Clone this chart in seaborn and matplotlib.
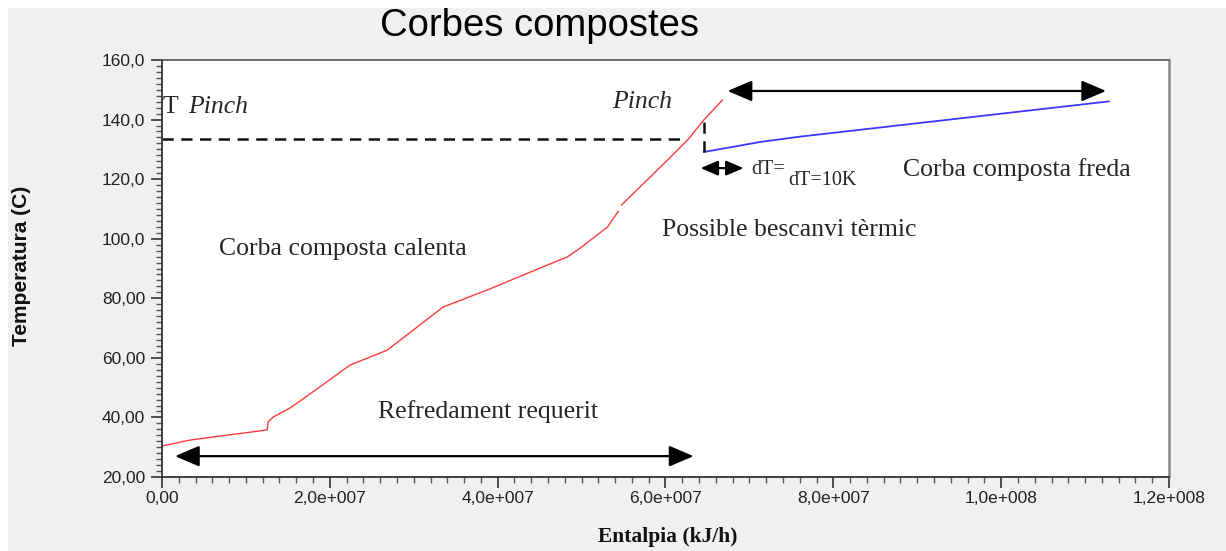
import numpy as np
import pandas as pd
import seaborn as sns
import matplotlib.pyplot as plt
from matplotlib.patches import Rectangle

# Composite curves (enthalpy in kJ/h, temperature in C)
hot_h1 = [0.0, 0.334e7, 1.253e7, 1.265e7, 1.324e7, 1.527e7, 1.646e7, 2.243e7, 2.684e7,
          3.352e7, 3.877e7, 4.390e7, 4.831e7, 4.986e7, 5.308e7, 5.440e7]
hot_t1 = [30.4, 32.4, 35.8, 38.5, 40.1, 43.2, 45.5, 57.6, 62.6,
          77.1, 82.8, 88.8, 93.9, 96.9, 103.9, 109.3]
hot_h2 = [5.475e7, 6.024e7, 6.275e7, 6.454e7, 6.680e7]
hot_t2 = [111.3, 126.4, 133.5, 139.8, 146.6]
cold_h = [6.454e7, 7.133e7, 7.611e7, 11.285e7]
cold_t = [129.1, 132.5, 134.3, 146.1]

# pinch
t_pinch = 133.4
h_pinch = 6.454e7
h_pinch_line_end = 6.18e7

# arrows (start, end, level)
arrow_cooling = (0.155e7, 6.334e7, 27.0)
arrow_heating = (6.74e7, 11.25e7, 149.6)
arrow_dt = (6.418e7, 6.93e7, 123.7)

xticks = [0, 2e7, 4e7, 6e7, 8e7, 10e7, 12e7]
xtick_labels = ['0,00', '2,0e+007', '4,0e+007', '6,0e+007', '8,0e+007', '1,0e+008', '1,2e+008']
yticks = [20, 40, 60, 80, 100, 120, 140, 160]
ytick_labels = ['20,00', '40,00', '60,00', '80,00', '100,0', '120,0', '140,0', '160,0']

sns.set_theme(style="ticks")
plt.rcParams['font.family'] = ['Liberation Sans', 'DejaVu Sans']

fig = plt.figure(figsize=(12.26, 5.51), dpi=100, facecolor='white')
fig.patches.append(Rectangle((8 / 1226, 0), 1, 1 - 8 / 551, transform=fig.transFigure,
                             facecolor='#f0f0f0', edgecolor='none', zorder=-10))
ax = fig.add_axes([162 / 1226, 1 - 477 / 551, (1169 - 162) / 1226, (477 - 60) / 551])
ax.set_facecolor('white')

hot1 = pd.DataFrame({'h': hot_h1, 't': hot_t1})
hot2 = pd.DataFrame({'h': hot_h2, 't': hot_t2})
cold = pd.DataFrame({'h': cold_h, 't': cold_t})

sns.lineplot(ax=ax, data=hot1, x='h', y='t', sort=False, color='#ff3b3b', lw=1.0)
sns.lineplot(ax=ax, data=hot2, x='h', y='t', sort=False, color='#ff3b3b', lw=1.0)
sns.lineplot(ax=ax, data=cold, x='h', y='t', sort=False, color='#3a3aff', lw=1.3)

# pinch dashed lines
ax.plot([0, h_pinch_line_end], [t_pinch, t_pinch], color='#111111', lw=1.8,
        linestyle=(0, (4.5, 3)))
ax.plot([h_pinch, h_pinch], [cold_t[0], hot_t2[3]], color='#111111', lw=1.8,
        linestyle=(0, (4.5, 3)))

# arrows
for (x0, x1, y), ms in [(arrow_cooling, 20), (arrow_heating, 20), (arrow_dt, 14)]:
    ax.annotate('', xy=(x1, y), xytext=(x0, y),
                arrowprops=dict(arrowstyle='<|-|>,head_length=0.75,head_width=0.32',
                                color='black', lw=1.6, mutation_scale=ms,
                                shrinkA=0, shrinkB=0))

serif = ['Liberation Serif', 'DejaVu Serif']
ax.text(0.01e7, 144.2, 'T ', fontsize=18.5, family=serif, va='center', ha='left')
ax.text(0.31e7, 144.2, 'Pinch', fontsize=18.5, family=serif, style='italic', va='center', ha='left')
ax.text(5.72e7, 146.0, 'Pinch', fontsize=18.5, family=serif, style='italic', va='center', ha='center')
ax.text(7.02e7, 123.3, 'dT=', fontsize=14.5, family=serif, va='center', ha='left')
ax.text(7.46e7, 119.5, 'dT=10K', fontsize=14.5, family=serif, va='center', ha='left')
ax.text(10.19e7, 123.3, 'Corba composta freda', fontsize=18.5, family=serif, va='center', ha='center')
ax.text(7.47e7, 102.9, 'Possible bescanvi tèrmic', fontsize=18.5, family=serif, va='center', ha='center')
ax.text(2.15e7, 96.5, 'Corba composta calenta', fontsize=18.5, family=serif, va='center', ha='center')
ax.text(3.88e7, 42.0, 'Refredament requerit', fontsize=18.5, family=serif, va='center', ha='center')

ax.set_xlim(0, 12e7)
ax.set_ylim(20, 160)
ax.set_xticks(xticks)
ax.set_xticklabels(xtick_labels, fontsize=12.5, color='#222222')
ax.set_yticks(yticks)
ax.set_yticklabels(ytick_labels, fontsize=12.5, color='#222222')
ax.set_xticks(np.arange(0, 12e7 + 1, 2e6), minor=True)
ax.set_yticks(np.arange(20, 161, 2), minor=True)
ax.tick_params(which='major', direction='out', length=8, width=1.2, color='#333333', pad=4)
ax.tick_params(axis='x', which='major', pad=2)
ax.tick_params(which='minor', direction='out', length=4.5, width=1.0, color='#555555')
ax.set_xlabel('')
ax.set_ylabel('')

for side in ['left', 'bottom']:
    ax.spines[side].set_color('#333333')
    ax.spines[side].set_linewidth(1.3)
ax.spines['top'].set_color('#555555')
ax.spines['top'].set_linewidth(1.2)
ax.spines['right'].set_color('#888888')
ax.spines['right'].set_linewidth(1.8)

fig.text(540 / 1226, 1 - 26 / 551, 'Corbes compostes', fontsize=27.5, ha='center', va='center',
         color='black')
fig.text(22 / 1226, 1 - 266 / 551, 'Temperatura (C)', fontsize=15, fontweight='bold',
         rotation=90, ha='center', va='center', color='#111111')
fig.text(668 / 1226, 1 - 537 / 551, 'Entalpia (kJ/h)', fontsize=15.5, fontweight='bold',
         family=serif, ha='center', va='center', color='#111111')

fig.savefig('out.png', dpi=100, facecolor=fig.get_facecolor())
